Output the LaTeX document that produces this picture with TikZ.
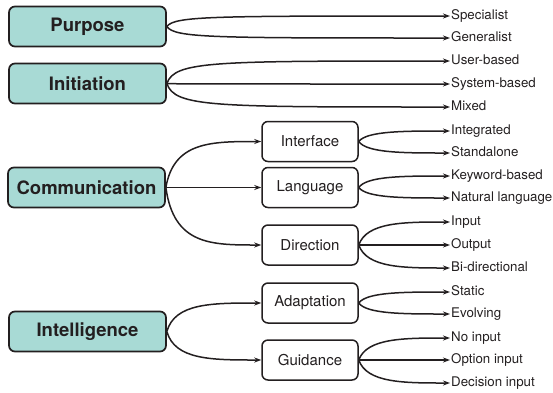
\documentclass[tikz,border=0pt]{standalone}
\usepackage{fontspec}
\setmainfont{TeX Gyre Heros}
\usetikzlibrary{arrows.meta,calc}
\definecolor{tealfill}{HTML}{A8DAD5}
\definecolor{ink}{HTML}{231F20}
\newcommand\fanto[2]{\draw[arr] (#1.east) .. controls ($(#1.east |- #2.west)+(8,0)$) and ($(#1.east |- #2.west)+(45,0)$) .. (#2.west);}
\begin{document}
\begin{tikzpicture}[x=1pt,y=-1pt,
 topbox/.style={draw=ink, line width=1.7pt, fill=tealfill, rounded corners=6pt, minimum width=157pt, minimum height=40pt, font=\fontsize{18.5}{21}\selectfont\bfseries, text=ink},
 midbox/.style={draw=ink, line width=1.5pt, fill=white, rounded corners=6pt, minimum width=96pt, minimum height=40pt, font=\fontsize{15}{18}\selectfont, text=ink},
 leaf/.style={anchor=west, inner xsep=1pt, inner ysep=0pt, text height=9.7pt, text depth=2.8pt, font=\fontsize{13.3}{15}\selectfont, text=ink},
 arr/.style={draw=ink, line width=1.5pt, -{Stealth[length=7pt,width=5pt]}}]
\useasboundingbox (0,0) rectangle (553,392);
% top-level
\node[topbox] (pur) at (87.5,26.5) {Purpose};
\node[topbox] (ini) at (87.5,83.5) {Initiation};
\node[topbox] (com) at (86.5,187.5) {Communication};
\node[topbox] (intl) at (87.5,331.5) {Intelligence};
% middle
\node[midbox] (itf) at (310,141.5) {Interface};
\node[midbox] (lng) at (310,187.5) {Language};
\node[midbox] (dir) at (310,245) {Direction};
\node[midbox] (ada) at (310,303) {Adaptation};
\node[midbox] (gui) at (310,360) {Guidance};
% leaves
\node[leaf] (spe) at (450,16) {Specialist};
\node[leaf] (gen) at (450,38) {Generalist};
\node[leaf] (usr) at (450,61) {User-based};
\node[leaf] (sys) at (450,84) {System-based};
\node[leaf] (mix) at (450,107) {Mixed};
\node[leaf] (int) at (450,131) {Integrated};
\node[leaf] (sta) at (450,153) {Standalone};
\node[leaf] (key) at (450,176) {Keyword-based};
\node[leaf] (nat) at (450,198) {Natural language};
\node[leaf] (inp) at (450,222) {Input};
\node[leaf] (out) at (450,245) {Output};
\node[leaf] (bid) at (450,268) {Bi-directional};
\node[leaf] (sti) at (450,292) {Static};
\node[leaf] (evo) at (450,314) {Evolving};
\node[leaf] (noi) at (450,338) {No input};
\node[leaf] (opt) at (450,360) {Option input};
\node[leaf] (dec) at (450,383) {Decision input};
% connectors
\fanto{pur}{spe}
\fanto{pur}{gen}
\fanto{ini}{usr}
\fanto{ini}{sys}
\fanto{ini}{mix}
\fanto{com}{itf}
\fanto{com}{lng}
\fanto{com}{dir}
\fanto{intl}{ada}
\fanto{intl}{gui}
\fanto{itf}{int}
\fanto{itf}{sta}
\fanto{lng}{key}
\fanto{lng}{nat}
\fanto{dir}{inp}
\fanto{dir}{out}
\fanto{dir}{bid}
\fanto{ada}{sti}
\fanto{ada}{evo}
\fanto{gui}{noi}
\fanto{gui}{opt}
\fanto{gui}{dec}
\end{tikzpicture}
\end{document}
